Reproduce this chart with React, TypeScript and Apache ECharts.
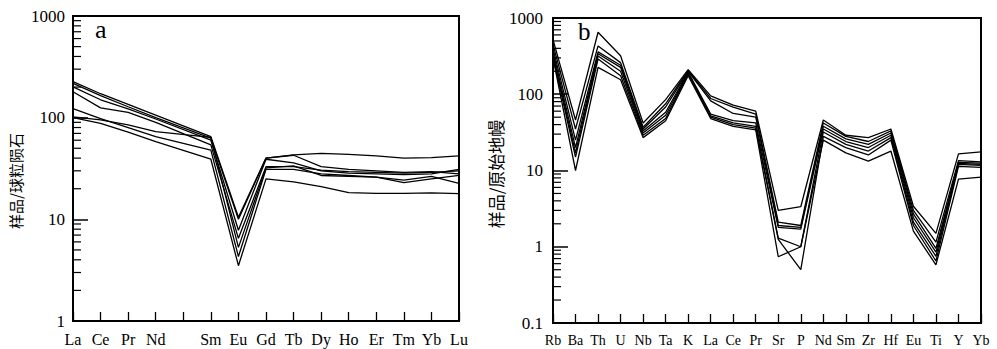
import React, { useEffect, useRef } from "react";
import * as echarts from "echarts";

// ---- Panel a: chondrite-normalized REE ----
const reeCats = ["La", "Ce", "Pr", "Nd", "", "Sm", "Eu", "Gd", "Tb", "Dy", "Ho", "Er", "Tm", "Yb", "Lu"];
const a1 = [226, 172, 135, 106, null, 65, 10.5, 40, 43, 44.5, 43.5, 42, 40, 40.5, 42];
const a2 = [217, 165, 128, 100, null, 63, 10, 40, 42.7, 33, 31, 30, 29, 29.5, 28];
const a3 = [201, 150, 122, 97, null, 60, 7.8, 39, 36, 30, 28.5, 28, 27.5, 28, 31];
const a4 = [180, 125, 113, 90, null, 54, 6.5, 33, 33, 30.5, 29.5, 29, 28.5, 29, 30];
const a5 = [102, 95, 85, 73, null, 64, 5.3, 32, 33.5, 27, 26.5, 26, 24.3, 26.5, 22.6];
const a6 = [123, 98, 80, 65, null, 48, 4.3, 31, 31, 28, 27, 26, 23, 25, 27];
const a7 = [100, 88, 72, 58, null, 39, 3.5, 25, 23.4, 21, 18.3, 18, 18, 18.2, 17.9];
const aSeries = [a1, a2, a3, a4, a5, a6, a7];

// ---- Panel b: primitive-mantle-normalized spider ----
const spiderCats = ["Rb", "Ba", "Th", "U", "Nb", "Ta", "K", "La", "Ce", "Pr", "Sr", "P", "Nd", "Sm", "Zr", "Hf", "Eu", "Ti", "Y", "Yb"];
const b1 = [520, 46, 650, 320, 42, 85, 210, 95, 72, 60, 3.0, 3.35, 46, 29, 27, 35, 3.4, 1.5, 16.5, 17.5];
const b2 = [450, 35, 430, 260, 37, 75, 205, 88, 68, 55, 2.1, 1.9, 42, 28, 24, 33, 3.0, 1.15, 13.5, 13];
const b3 = [400, 25, 360, 240, 35, 68, 200, 82, 56, 50, 1.9, 1.8, 38, 26, 22, 31, 2.7, 0.95, 12.8, 12.5];
const b4 = [360, 20, 340, 225, 33, 58, 195, 55, 45, 42, 1.8, 1.7, 35, 24, 20, 29, 2.4, 0.85, 12.4, 12];
const b5 = [330, 17, 318, 200, 31, 53, 190, 52, 42, 38, 1.3, 1.0, 32, 22, 18, 27, 2.1, 0.75, 12, 11.7];
const b6 = [310, 15, 290, 175, 29, 48, 185, 50, 40, 36, 1.25, 0.5, 28, 20, 16, 25, 1.9, 0.65, 11.3, 11];
const b7 = [300, 10, 225, 155, 27, 45, 175, 48, 38, 34, 0.74, 1.0, 25, 17, 13.3, 18, 1.6, 0.58, 7.7, 8.2];
const bSeries = [b1, b2, b3, b4, b5, b6, b7];

// minor tick decades
const aDecades = [1, 10, 100];
const bDecades = [0.1, 1, 10, 100];
const minorMultipliers = [2, 3, 4, 5, 6, 7, 8, 9];

const SERIF = "'Liberation Serif', 'Times New Roman', serif";
const CJK = "'Noto Sans CJK SC', sans-serif";

function minorData(decades: number[]) {
  const out: number[][] = [];
  decades.forEach((d) => minorMultipliers.forEach((m) => out.push([0, +(d * m).toPrecision(6)])));
  return out;
}

export default function App() {
  const ref = useRef<HTMLDivElement>(null);
  useEffect(() => {
    if (!ref.current) return;
    const chart = echarts.init(ref.current, undefined, { renderer: "svg" });

    const lineStyle = { color: "#000", width: 1.3 };
    const mkLines = (arr: (number | null)[][], idx: number) =>
      arr.map((d) => ({
        type: "line",
        xAxisIndex: idx,
        yAxisIndex: idx,
        data: d,
        symbol: "none",
        connectNulls: true,
        lineStyle,
        silent: true,
        z: 2,
      }));

    const minorSeries = (idx: number, decades: number[]) => ({
      type: "custom",
      xAxisIndex: idx,
      yAxisIndex: idx,
      silent: true,
      clip: false,
      z: 10,
      data: minorData(decades),
      encode: { x: 0, y: 1 },
      renderItem: (params: any, api: any) => {
        const p = api.coord([0, api.value(1)]);
        return {
          type: "line",
          shape: { x1: p[0], y1: p[1], x2: p[0] + 8, y2: p[1] },
          style: { stroke: "#000", lineWidth: 1.2 },
        };
      },
    });

    const xAxisBase = (cats: string[], idx: number, fontSize: number) => ({
      type: "category",
      gridIndex: idx,
      data: cats,
      boundaryGap: false,
      z: 5,
      axisLine: { show: true, lineStyle: { color: "#000", width: 2 } },
      axisTick: { show: true, inside: true, length: 9, interval: 0, lineStyle: { color: "#000", width: 1.3 } },
      axisLabel: { interval: 0, color: "#000", fontFamily: SERIF, fontSize, margin: 10 },
      splitLine: { show: false },
    });

    const yAxisBase = (idx: number, min: number, max: number, margin: number) => ({
      type: "log",
      logBase: 10,
      gridIndex: idx,
      min,
      max,
      z: 5,
      axisLine: { show: true, lineStyle: { color: "#000", width: 2 } },
      axisTick: { show: true, inside: true, length: 15, lineStyle: { color: "#000", width: 1.5 } },
      axisLabel: {
        color: "#000",
        fontFamily: SERIF,
        fontSize: 17,
        margin,
        formatter: (v: number) => String(v),
      },
      splitLine: { show: false },
    });

    chart.setOption({
      animation: false,
      backgroundColor: "#fff",
      grid: [
        { left: 73, top: 16, width: 386, height: 305, show: true, borderColor: "#000", borderWidth: 2, backgroundColor: "transparent" },
        { left: 553, top: 18, width: 428, height: 305, show: true, borderColor: "#000", borderWidth: 2, backgroundColor: "transparent" },
      ],
      xAxis: [xAxisBase(reeCats, 0, 16), xAxisBase(spiderCats, 1, 14)],
      yAxis: [yAxisBase(0, 1, 1000, 8), yAxisBase(1, 0.1, 1000, 10)],
      series: [
        ...mkLines(aSeries, 0),
        ...mkLines(bSeries, 1),
        minorSeries(0, aDecades),
        minorSeries(1, bDecades),
      ],
      graphic: [
        {
          type: "text",
          x: 95,
          y: 29,
          style: { text: "a", font: `26px ${SERIF}`, fill: "#000", textVerticalAlign: "middle" },
        },
        {
          type: "text",
          x: 578,
          y: 31,
          style: { text: "b", font: `25px ${SERIF}`, fill: "#000", textVerticalAlign: "middle" },
        },
        {
          type: "text",
          x: 15,
          y: 181,
          rotation: Math.PI / 2,
          style: {
            text: "样品/球粒陨石",
            font: `15px ${CJK}`,
            fill: "#000",
            textAlign: "center",
            textVerticalAlign: "middle",
          },
        },
        {
          type: "text",
          x: 495,
          y: 174,
          rotation: Math.PI / 2,
          style: {
            text: "样品/原始地幔",
            font: `17px ${CJK}`,
            fill: "#000",
            textAlign: "center",
            textVerticalAlign: "middle",
          },
        },
      ],
    });
    return () => chart.dispose();
  }, []);
  return (
    <div
      ref={ref}
      style={{ position: "fixed", left: 0, top: 0, width: 997, height: 349, background: "#fff" }}
    />
  );
}
